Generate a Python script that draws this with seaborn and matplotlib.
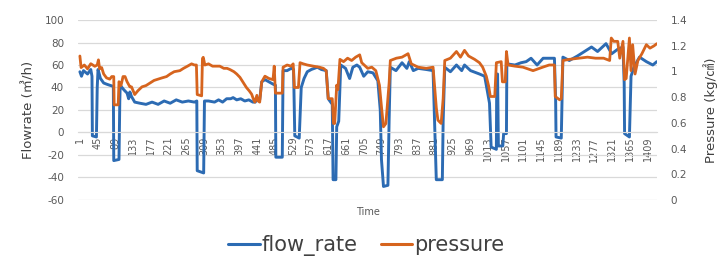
import matplotlib
matplotlib.use("Agg")
import matplotlib.pyplot as plt
import seaborn as sns
import pandas as pd
from matplotlib.lines import Line2D

# ---- data ----
flow_t = [1, 5, 10, 20, 28, 31, 32, 42, 44, 46, 52, 60, 67, 75, 84, 85, 98, 100, 101, 110,
          118, 122, 125, 129, 137, 150, 165, 180, 195, 210, 225, 240, 255, 270, 285, 291, 292, 308, 310, 320,
          335, 345, 355, 365, 375, 381, 390, 400, 410, 420, 430, 436, 440, 447, 452, 460, 470, 480, 486, 487,
          503, 505, 515, 525, 531, 534, 545, 550, 557, 565, 575, 590, 600, 612, 617, 627, 629, 636, 638, 643,
          648, 660, 670, 678, 688, 695, 705, 715, 728, 740, 746, 749, 754, 765, 768, 771, 785, 800, 812, 818,
          828, 840, 860, 877, 881, 885, 900, 902, 906, 920, 935, 948, 955, 970, 985, 992, 1005, 1017, 1021, 1034,
          1035, 1037, 1039, 1050, 1052, 1059, 1060, 1080, 1095, 1108, 1120, 1135, 1150, 1165, 1178, 1181, 1182, 1195, 1199, 1215,
          1235, 1257, 1270, 1285, 1306, 1320, 1335, 1348, 1351, 1352, 1364, 1368, 1375, 1389, 1406, 1422, 1432]
flow_rate = [54, 50, 55, 52, 56, 50, -3, -4, 40, 56, 48, 44, 43, 42, 41, -25, -24, 28, 42, 38,
             35, 30, 36, 32, 27, 26, 25, 27, 25, 28, 26, 29, 27, 28, 27, 28, -34, -36, 28, 28,
             27, 29, 27, 30, 30, 31, 29, 30, 28, 29, 27, 27, 30, 29, 45, 47, 45, 43, 42, -22,
             -22, 55, 55, 57, 56, -3, -5, 40, 48, 54, 56, 58, 56, 55, 30, 25, -42, -42, 5, 10,
             60, 57, 48, 58, 60, 58, 50, 54, 53, 46, 20, -24, -48, -47, 11, 58, 55, 62, 57, 63,
             55, 57, 56, 55, 8, -42, -42, 10, 58, 54, 60, 55, 60, 55, 53, 52, 50, 26, -13, -15,
             52, 52, -12, -12, -1, -1, 61, 60, 62, 63, 66, 60, 66, 66, 66, 29, -4, -5, 67, 64,
             68, 73, 76, 72, 79, 70, 74, 76, 44, -1, -4, 50, 58, 67, 63, 60, 63]

press_t = [1, 4, 12, 20, 28, 38, 44, 47, 50, 55, 60, 67, 75, 80, 85, 86, 96, 98, 103, 108,
           113, 118, 125, 129, 137, 145, 155, 165, 175, 185, 195, 205, 216, 225, 235, 249, 258, 268, 278, 285,
           290, 292, 303, 305, 307, 311, 320, 330, 340, 348, 358, 366, 373, 383, 390, 398, 405, 414, 421, 427,
           431, 435, 440, 443, 447, 452, 460, 470, 480, 483, 486, 503, 505, 515, 525, 530, 533, 543, 547, 555,
           565, 580, 595, 605, 612, 617, 627, 630, 633, 638, 641, 646, 655, 665, 675, 685, 695, 700, 715, 725,
           735, 740, 744, 749, 754, 760, 765, 768, 771, 786, 800, 815, 823, 840, 860, 877, 881, 885, 889, 897,
           902, 906, 920, 935, 945, 955, 965, 980, 992, 1000, 1009, 1015, 1019, 1030, 1034, 1046, 1049, 1056, 1059, 1063,
           1080, 1100, 1125, 1149, 1165, 1178, 1180, 1191, 1195, 1199, 1215, 1240, 1260, 1280, 1300, 1315, 1319, 1325, 1335, 1340,
           1348, 1352, 1356, 1364, 1368, 1372, 1378, 1385, 1395, 1406, 1415, 1425, 1432]
pressure = [1.12, 1.03, 1.05, 1.02, 1.06, 1.04, 1.05, 1.09, 1.02, 1.03, 0.98, 0.95, 0.94, 0.96, 0.96, 0.74, 0.74, 0.92, 0.89, 0.96,
            0.96, 0.92, 0.88, 0.88, 0.82, 0.85, 0.88, 0.89, 0.91, 0.93, 0.94, 0.95, 0.96, 0.98, 0.998, 1.006, 1.024, 1.041, 1.059, 1.05,
            1.05, 0.82, 0.81, 1.10, 1.11, 1.05, 1.059, 1.041, 1.041, 1.041, 1.024, 1.024, 1.015, 0.998, 0.98, 0.954, 0.919, 0.875, 0.849, 0.823,
            0.788, 0.761, 0.814, 0.77, 0.761, 0.919, 0.963, 0.945, 0.936, 1.041, 0.831, 0.831, 1.033, 1.05, 1.041, 1.059, 0.875, 0.875, 1.068, 1.059,
            1.05, 1.041, 1.033, 1.024, 1.006, 0.788, 0.788, 0.595, 0.595, 0.893, 0.858, 1.094, 1.076, 1.103, 1.085, 1.111, 1.129, 1.068, 1.024, 1.033,
            1.006, 0.945, 0.893, 0.726, 0.569, 0.595, 0.788, 0.91, 1.085, 1.103, 1.111, 1.138, 1.059, 1.033, 1.024, 1.033, 0.875, 0.718, 0.621, 0.595,
            0.788, 1.085, 1.103, 1.155, 1.111, 1.164, 1.12, 1.094, 1.068, 1.033, 0.963, 0.884, 0.805, 0.805, 1.068, 1.076, 0.919, 0.919, 1.155, 1.05,
            1.041, 1.033, 1.006, 1.033, 1.05, 1.05, 0.805, 0.779, 0.788, 1.085, 1.094, 1.103, 1.111, 1.103, 1.103, 1.085, 1.26, 1.234, 1.234, 1.103,
            1.234, 0.936, 0.945, 1.26, 1.006, 1.208, 0.98, 1.085, 1.138, 1.208, 1.181, 1.199, 1.216]

tick_pos = [1, 45, 89, 133, 177, 221, 265, 309, 353, 397, 441, 485, 529, 573, 617, 661, 705,
            749, 793, 837, 881, 925, 969, 1013, 1057, 1101, 1145, 1189, 1233, 1277, 1321, 1365, 1409]
tick_labels = [str(v) for v in tick_pos]
left_ticks = [-60, -40, -20, 0, 20, 40, 60, 80, 100]
right_ticks = [0, 0.2, 0.4, 0.6, 0.8, 1, 1.2, 1.4]
right_labels = ["0", "0.2", "0.4", "0.6", "0.8", "1", "1.2", "1.4"]

BLUE = "#2C6BB3"
ORANGE = "#D6641E"
GRID = "#D9D9D9"
TXT = "#595959"

sns.set_style("white")
plt.rcParams["font.family"] = ["DejaVu Sans", "Noto Sans CJK JP"]

fig = plt.figure(figsize=(7.21, 2.60), dpi=100)
ax = fig.add_axes([0.108, 0.231, 0.803, 0.692])
ax2 = ax.twinx()

df_flow = pd.DataFrame({"t": flow_t, "v": flow_rate})
df_press = pd.DataFrame({"t": press_t, "v": pressure})
sns.lineplot(data=df_flow, x="t", y="v", ax=ax, color=BLUE, lw=2.1, estimator=None, sort=False)
sns.lineplot(data=df_press, x="t", y="v", ax=ax2, color=ORANGE, lw=2.0, estimator=None, sort=False)

for a in (ax, ax2):
    for s in a.spines.values():
        s.set_visible(False)
ax.spines["bottom"].set_position(("data", 0))
ax.spines["bottom"].set_visible(True)
ax.spines["bottom"].set_color(GRID)

ax.set_xlim(-4, 1432)
ax.set_ylim(-60, 100)
ax2.set_ylim(0, 1.4)

ax.set_yticks(left_ticks)
ax.set_yticklabels([str(v) for v in left_ticks])
ax2.set_yticks(right_ticks)
ax2.set_yticklabels(right_labels)

ax.set_xticks(tick_pos)
ax.set_xticklabels(tick_labels)
ax.tick_params(axis="x", length=0, pad=3, labelrotation=90, labelsize=7, labelcolor=TXT)
ax.tick_params(axis="y", length=0, pad=10, labelsize=7.5, labelcolor=TXT)
ax2.tick_params(axis="y", length=0, pad=10, labelsize=7.5, labelcolor=TXT)

ax.grid(axis="y", color=GRID, lw=0.9)
ax.grid(axis="x", visible=False)
ax2.grid(False)
ax.set_xlabel("")
ax.set_ylabel("")
ax2.set_ylabel("")

fig.text(0.040, 0.577, "Flowrate (㎥/h)", rotation=90, ha="center", va="center",
         fontsize=9.5, color="#404040")
fig.text(0.985, 0.577, "Pressure (kg/㎠)", rotation=90, ha="center", va="center",
         fontsize=9.5, color="#404040")
fig.text(0.510, 0.186, "Time", ha="center", va="center", fontsize=7, color=TXT)

handles = [Line2D([], [], color=BLUE, lw=2.2), Line2D([], [], color=ORANGE, lw=2.2)]
fig.legend(handles, ["flow_rate", "pressure"], loc="center", bbox_to_anchor=(0.508, 0.055),
           ncol=2, frameon=False, fontsize=15, handlelength=1.5, handletextpad=0.1,
           columnspacing=1.1, labelcolor="#404040", borderpad=0.0)

fig.savefig("out.png", dpi=100)
